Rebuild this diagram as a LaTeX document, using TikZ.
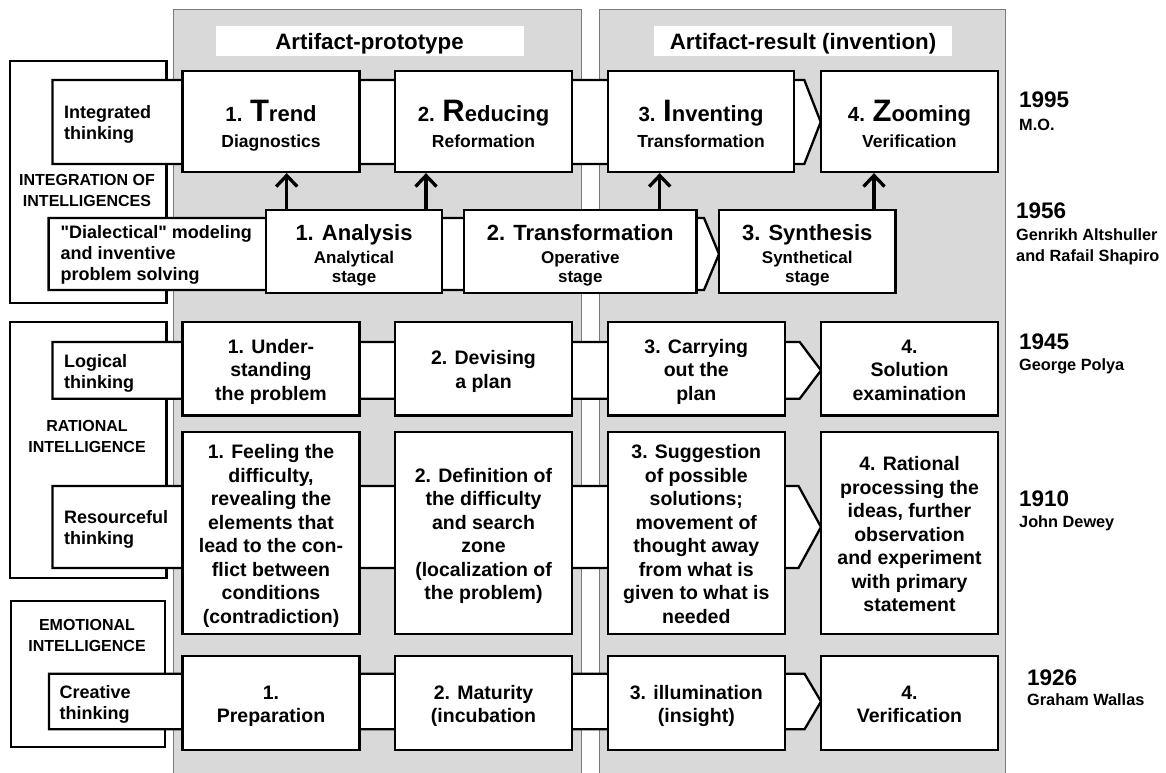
\documentclass[tikz,border=0pt]{standalone}
\usepackage{fontspec}
\setmainfont{Liberation Sans}[Ligatures=TeXOff]
\usetikzlibrary{arrows.meta}
\definecolor{panelgray}{HTML}{D9D9D9}
\definecolor{panelline}{HTML}{7A7A7A}
\newcommand\firstL[1]{{\fontsize{31}{31}\selectfont #1}}
\newcommand\numS[1]{{\fontsize{20.5}{20.5}\selectfont #1}}
\newcommand\mainS[1]{{\fontsize{22}{22}\selectfont #1}}
\newcommand\yearS[1]{{\fontsize{22.5}{22.5}\selectfont #1}}
% vertical struts: top height, bottom depth
\newcommand\tsA{\rule{0pt}{29pt}}
\newcommand\bsA{\rule[-4pt]{0pt}{4pt}}
\newcommand\tsB{\rule{0pt}{24pt}}
\newcommand\bsB{\rule[-3.6pt]{0pt}{3.6pt}}
\newcommand\tsC{\rule{0pt}{20.1pt}}
\newcommand\bsC{\rule[-4.1pt]{0pt}{4.1pt}}
\begin{document}
\begin{tikzpicture}[x=1pt,y=-1pt,
  panel/.style={fill=panelgray, draw=panelline, line width=0.9pt},
  frame/.style={draw=black, fill=white, line width=2.3pt, line join=miter},
  bx/.style={frame, align=center, inner sep=0pt},
  ttl/.style={fill=white, inner sep=0pt, text depth=0pt, font=\fontsize{22.3}{24}\selectfont\bfseries},
  grp/.style={align=center, inner sep=0pt, font=\fontsize{16}{20.5}\selectfont\bfseries},
  lbl/.style={align=left, anchor=west, inner sep=0pt, font=\fontsize{18}{21}\selectfont\bfseries},
  topbox/.style={bx, minimum height=101pt, font=\fontsize{17.5}{26}\selectfont\bfseries},
  midbox/.style={bx, minimum height=83pt, font=\fontsize{17}{19.5}\selectfont\bfseries},
  body/.style={bx, minimum width=177pt, font=\fontsize{19.5}{23.5}\selectfont\bfseries},
  yr/.style={align=left, anchor=west, inner sep=0pt, font=\fontsize{16.3}{21}\selectfont\bfseries},
  uparr/.style={line width=3.3pt, -{Straight Barb[length=11pt,width=21pt]}},
]
\useasboundingbox (0,0) rectangle (1166,772);

% gray panels
\path[panel] (173,9.5) rectangle (581,790);
\path[panel] (599.5,9.5) rectangle (1005.5,790);

% panel titles
\node[ttl, minimum width=308pt, minimum height=29.5pt] (tp) at (369.5,41) {Artifact-prototype};
\node[ttl, minimum width=298pt, minimum height=29.5pt] (tr2) at (803,41) {Artifact-result (invention)};

% group frames on the left
\path[frame] (10.3,61) rectangle (166.5,303);
\node[grp] (gi) at (87,190.5) {INTEGRATION OF\\INTELLIGENCES};
\path[frame] (10.3,321.7) rectangle (166.5,578);
\node[grp] (gr) at (87,436.5) {RATIONAL\\INTELLIGENCE};
\path[frame] (11,600.7) rectangle (165,747);
\node[grp] (ge) at (87,635.5) {EMOTIONAL\\INTELLIGENCE};

% bands with chevron ends
\path[frame] (52.4,80) -- (804.3,80) -- (820.7,122) -- (804.3,164) -- (52.4,164) -- cycle;
\path[frame] (48.6,218) -- (704,218) -- (719,254) -- (704,290) -- (48.6,290) -- cycle;
\path[frame] (52.4,342) -- (799.7,342) -- (821,370.4) -- (799.7,398.7) -- (52.4,398.7) -- cycle;
\path[frame] (52.4,486) -- (798.5,486) -- (821,527) -- (798.5,568) -- (52.4,568) -- cycle;
\path[frame] (49,673.7) -- (804.5,673.7) -- (821,701.5) -- (804.5,729.3) -- (49,729.3) -- cycle;

% band labels
\node[lbl] (l1) at (64,124) {Integrated\\thinking};
\node[lbl] (l2) at (60.5,255) {"Dialectical" modeling\\and inventive\\problem solving};
\node[lbl] (l3) at (64,373.5) {Logical\\thinking};
\node[lbl] (l4) at (64,529) {Resourceful\\thinking};
\node[lbl] (l6) at (59.5,704.5) {Creative\\thinking};

% row 1 (1995)
\node[topbox, minimum width=177pt] (r1a) at (271,121.5) {\tsA\numS{1. }\firstL{T}\mainS{rend}\\Diagnostics\bsA};
\node[topbox, minimum width=177pt] (r1b) at (483.5,121.5) {\tsA\numS{2. }\firstL{R}\mainS{educing}\\Reformation\bsA};
\node[topbox, minimum width=186pt] (r1c) at (701,121.5) {\tsA\numS{3. }\firstL{I}\mainS{nventing}\\Transformation\bsA};
\node[topbox, minimum width=177pt] (r1d) at (909.4,121.5) {\tsA\numS{4. }\firstL{Z}\mainS{ooming}\\Verification\bsA};

% row 2 (1956)
\node[midbox, minimum width=176pt] (r2a) at (354,251.5) {\tsB\mainS{1. Analysis}\\[3pt]Analytical\\stage\bsB};
\node[midbox, minimum width=232.5pt] (r2b) at (580.25,251.5) {\tsB\mainS{2. Transformation}\\[3pt]Operative\\stage\bsB};
\node[midbox, minimum width=176.5pt] (r2c) at (807.25,251.5) {\tsB\mainS{3. Synthesis}\\[3pt]Synthetical\\stage\bsB};

% arrows between row 2 and row 1
\coordinate (x1) at (286.7,0);
\coordinate (x2) at (426,0);
\coordinate (x3) at (659.7,0);
\coordinate (x4) at (874,0);
\draw[uparr] (r2a.north -| x1) -- (r1a.south -| x1);
\draw[uparr] (r2a.north -| x2) -- (r1b.south -| x2);
\draw[uparr] (r2b.north -| x3) -- (r1c.south -| x3);
\draw[uparr] (r2c.north -| x4) -- (r1d.south -| x4);

% row 3 (1945)
\node[body, minimum height=93.8pt] (r3a) at (271,368.6) {\tsC 1. Under-\\standing\\the problem\bsC};
\node[body, minimum height=93.8pt] (r3b) at (483.5,368.6) {\tsC 2. Devising\\a plan\bsC};
\node[body, minimum height=93.8pt] (r3c) at (696.3,368.6) {\tsC 3. Carrying\\out the\\plan\bsC};
\node[body, minimum height=93.8pt] (r3d) at (909.5,368.6) {\tsC 4.\\Solution\\examination\bsC};

% row 4 (1910)
\node[body, minimum height=202pt] (r4a) at (271,533) {\tsC 1. Feeling the\\difficulty,\\revealing the\\elements that\\lead to the con-\\flict between\\conditions\\(contradiction)\bsC};
\node[body, minimum height=202pt] (r4b) at (483.5,533) {\tsC 2. Definition of\\the difficulty\\and search\\zone\\(localization of\\the problem)\bsC};
\node[body, minimum height=202pt] (r4c) at (696.3,533) {\tsC 3. Suggestion\\of possible\\solutions;\\movement of\\thought away\\from what is\\given to what is\\needed\bsC};
\node[body, minimum height=202pt] (r4d) at (909.5,533) {\tsC 4. Rational\\processing the\\ideas, further\\observation\\and experiment\\with primary\\statement\bsC};

% row 6 (1926)
\node[body, minimum height=94pt] (r6a) at (271,703) {\tsC 1.\\Preparation\bsC};
\node[body, minimum height=94pt] (r6b) at (483.5,703) {\tsC 2. Maturity\\(incubation\bsC};
\node[body, minimum height=94pt] (r6c) at (696.3,703) {\tsC 3. illumination\\(insight)\bsC};
\node[body, minimum height=94pt] (r6d) at (909.5,703) {\tsC 4.\\Verification\bsC};

% years and authors
\node[yr] (y1) at (1019,111.5) {\yearS{1995}\\[2pt]M.O.};
\node[yr] (y2) at (1016,233.5) {\yearS{1956}\\[1pt]Genrikh Altshuller\\and Rafail Shapiro};
\node[yr] (y3) at (1019,353.5) {\yearS{1945}\\[0pt]George Polya};
\node[yr] (y4) at (1019,511) {\yearS{1910}\\[0pt]John Dewey};
\node[yr] (y6) at (1027,688) {\yearS{1926}\\[-1pt]Graham Wallas};
\end{tikzpicture}
\end{document}
